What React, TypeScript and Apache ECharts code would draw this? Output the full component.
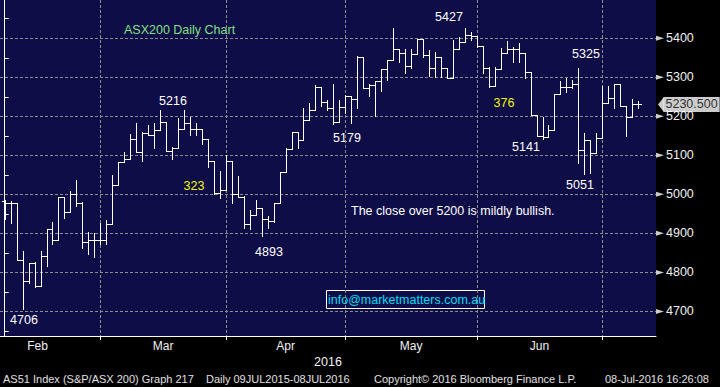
import React, { useEffect, useRef } from "react";
import * as echarts from "echarts";

// ASX200 daily bars, 5 Feb 2016 – 8 Jul 2016
const opens = [
  4982, 4977, 4977, 4833, 4778, 4824, 4766, 4843, 4910, 4882, 4993, 4954, 5002, 4979, 4877, 4882, 4882, 4882,
  4923, 5023, 5083, 5090, 5143, 5108, 5156, 5152, 5166, 5186, 5111, 5120, 5167, 5184, 5167, 5167, 5143, 5085,
  5004, 5011, 5085, 5000, 4994, 4925, 4946, 4964, 4938, 4932, 4977, 5056, 5116, 5160, 5138, 5190, 5215, 5274,
  5236, 5221, 5186, 5225, 5252, 5244, 5353, 5272, 5280, 5291, 5320, 5343, 5372, 5361, 5330, 5359, 5398, 5357,
  5323, 5351, 5323, 5297, 5373, 5390, 5408, 5405, 5380, 5323, 5278, 5320, 5361, 5372, 5372, 5361, 5314, 5203,
  5150, 5148, 5165, 5256, 5276, 5274, 5282, 5114, 5139, 5105, 5145, 5233, 5247, 5282, 5226, 5199, 5231,
];
const highs = [
  4986, 4982, 4979, 4855, 4824, 4826, 4855, 4910, 4928, 4993, 4994, 5008, 5037, 4980, 4903, 4900, 4927, 4933,
  5049, 5083, 5108, 5154, 5183, 5159, 5178, 5183, 5216, 5186, 5122, 5195, 5215, 5199, 5184, 5167, 5143, 5085,
  5060, 5101, 5085, 5047, 4996, 4960, 4985, 4964, 4945, 4977, 5056, 5120, 5160, 5160, 5220, 5234, 5280, 5274,
  5242, 5283, 5242, 5255, 5252, 5355, 5353, 5282, 5291, 5320, 5343, 5426, 5372, 5372, 5372, 5398, 5398, 5370,
  5366, 5351, 5323, 5396, 5403, 5427, 5416, 5405, 5380, 5327, 5327, 5374, 5394, 5377, 5387, 5361, 5314, 5203,
  5199, 5178, 5256, 5291, 5297, 5293, 5325, 5156, 5139, 5156, 5278, 5278, 5282, 5282, 5226, 5244, 5239,
];
const lows = [
  4936, 4927, 4831, 4706, 4774, 4763, 4765, 4817, 4874, 4882, 4940, 4954, 4971, 4863, 4847, 4840, 4872, 4872,
  4923, 5023, 5083, 5090, 5108, 5085, 5152, 5120, 5166, 5111, 5091, 5120, 5167, 5152, 5152, 5128, 5071, 5002,
  4991, 5011, 4978, 4994, 4913, 4910, 4946, 4893, 4914, 4930, 4977, 5056, 5116, 5119, 5138, 5190, 5215, 5227,
  5216, 5179, 5186, 5208, 5184, 5220, 5272, 5252, 5202, 5266, 5293, 5343, 5340, 5312, 5323, 5359, 5353, 5303,
  5300, 5300, 5297, 5297, 5373, 5390, 5396, 5378, 5310, 5276, 5278, 5320, 5361, 5338, 5338, 5297, 5203, 5150,
  5141, 5146, 5165, 5256, 5261, 5272, 5081, 5051, 5054, 5105, 5145, 5233, 5220, 5226, 5150, 5199, 5220,
];
const closes = [
  4977, 4977, 4833, 4778, 4824, 4766, 4843, 4910, 4882, 4993, 4954, 5002, 4979, 4877, 4882, 4882, 4882, 4923,
  5023, 5083, 5090, 5143, 5108, 5156, 5152, 5166, 5186, 5111, 5120, 5167, 5184, 5167, 5167, 5143, 5085, 5004,
  5011, 5085, 5000, 4994, 4925, 4946, 4964, 4938, 4932, 4977, 5056, 5116, 5160, 5138, 5190, 5215, 5274, 5236,
  5221, 5186, 5225, 5252, 5244, 5353, 5272, 5280, 5291, 5320, 5343, 5372, 5361, 5330, 5359, 5398, 5357, 5323,
  5351, 5323, 5297, 5373, 5390, 5408, 5405, 5380, 5323, 5278, 5320, 5361, 5372, 5372, 5361, 5314, 5203, 5150,
  5148, 5165, 5256, 5276, 5274, 5282, 5114, 5139, 5105, 5145, 5233, 5247, 5282, 5226, 5199, 5231, 5230.5,
];

const monthNames = ["Feb", "Mar", "Apr", "May", "Jun"];
const monthLabelAt = [5.5, 26.5, 47, 68, 89.5]; // bar positions of month label centres
const monthEndBars = [16, 37, 57, 79, 100]; // last trading day of Feb..Jun
const priceTicks = [4700, 4800, 4900, 5000, 5100, 5200, 5300, 5400];
const minorTicks = [4650, 4750, 4850, 4950, 5050, 5150, 5250, 5350, 5450];
const lastPrice = 5230.5;
const xMin = -0.784;
const xMax = 108.99;
const yMin = 4637;
const yMax = 5498;

const FONT = '"Liberation Sans", Arial, sans-serif';
const NAVY = "#0e0d48";
const GRIDC = "#8c8c8c";

export default function App() {
  const ref = useRef<HTMLDivElement>(null);
  useEffect(() => {
    if (!ref.current) return;
    const chart = echarts.init(ref.current, undefined, { renderer: "svg" });
    const bars = opens.map((o, i) => [i, o, highs[i], lows[i], closes[i]]);
    const crisp = (v: number) => Math.round(v) + 0.5;

    const txt = (text: string, x: number, y: number, fill: string, size = 12.5, align = "center") => ({
      type: "text",
      x,
      y,
      silent: true,
      style: { text, fill, font: `${size}px ${FONT}`, align, verticalAlign: "middle" },
    });

    chart.setOption({
      animation: false,
      backgroundColor: "#000",
      grid: { left: 0, top: 0, width: 656, height: 336, show: true, backgroundColor: NAVY, borderWidth: 0 },
      xAxis: {
        type: "value",
        min: xMin,
        max: xMax,
        axisLine: { show: true, lineStyle: { color: "#fff", width: 1 } },
        axisTick: { show: true, customValues: monthEndBars, length: 4, lineStyle: { color: "#fff" } },
        axisLabel: {
          customValues: monthLabelAt,
          color: "#f0f0f0",
          fontSize: 12,
          fontFamily: FONT,
          margin: 4,
          formatter: (v: number) => {
            let best = 0;
            monthLabelAt.forEach((m, k) => {
              if (Math.abs(m - v) < Math.abs(monthLabelAt[best] - v)) best = k;
            });
            return monthNames[best];
          },
        },
        splitLine: { show: false },
      },
      yAxis: {
        type: "value",
        position: "right",
        min: yMin,
        max: yMax,
        axisLine: { show: true, lineStyle: { color: "#fff", width: 1 } },
        axisTick: { show: true, customValues: minorTicks, length: 4, lineStyle: { color: "#fff" } },
        axisLabel: {
          customValues: priceTicks,
          color: "#f0f0f0",
          fontSize: 12.5,
          fontFamily: FONT,
          margin: 10,
          formatter: (v: number) => String(Math.round(v)),
        },
        splitLine: { show: false },
      },
      series: [
        {
          type: "custom",
          z: 1,
          silent: true,
          data: priceTicks.map((v) => [0, v]),
          encode: { x: 0, y: 1 },
          renderItem: (params: any, api: any) => {
            const y = crisp(api.coord([0, api.value(1)])[1] - 0.5);
            const cs = params.coordSys;
            return {
              type: "line",
              shape: { x1: cs.x, y1: y, x2: cs.x + cs.width, y2: y },
              style: { stroke: GRIDC, lineWidth: 1, lineDash: [3, 2] },
            };
          },
        },
        {
          type: "custom",
          z: 1,
          silent: true,
          data: monthEndBars.map((b) => [b, 5000]),
          encode: { x: 0, y: 1 },
          renderItem: (params: any, api: any) => {
            const x = crisp(api.coord([api.value(0), 5000])[0]);
            const cs = params.coordSys;
            return {
              type: "line",
              shape: { x1: x, y1: cs.y, x2: x, y2: cs.y + cs.height },
              style: { stroke: GRIDC, lineWidth: 1, lineDash: [3, 2] },
            };
          },
        },
        {
          type: "custom",
          z: 3,
          silent: true,
          data: bars,
          encode: { x: 0, y: [1, 2, 3, 4] },
          renderItem: (params: any, api: any) => {
            const i = api.value(0);
            const o = api.coord([i, api.value(1)]);
            const h = api.coord([i, api.value(2)]);
            const l = api.coord([i, api.value(3)]);
            const c = api.coord([i, api.value(4)]);
            const x = crisp(h[0]);
            const style = { stroke: "#fff", lineWidth: 1 };
            return {
              type: "group",
              children: [
                { type: "line", shape: { x1: x, y1: Math.round(h[1]), x2: x, y2: Math.round(l[1]) + 1 }, style },
                { type: "line", shape: { x1: x - 3.5, y1: crisp(o[1]), x2: x, y2: crisp(o[1]) }, style },
                { type: "line", shape: { x1: x, y1: crisp(c[1]), x2: x + 3.5, y2: crisp(c[1]) }, style },
              ],
            };
          },
        },
        {
          type: "scatter",
          z: 4,
          silent: true,
          clip: false,
          data: priceTicks.map((v) => [xMax, v]),
          symbol: "triangle",
          symbolRotate: -90,
          symbolSize: [5, 8],
          symbolOffset: [4, 0],
          itemStyle: { color: "#fff" },
        },
        {
          type: "scatter",
          z: 5,
          silent: true,
          clip: false,
          data: [[xMax, lastPrice]],
          symbol: "triangle",
          symbolRotate: 90,
          symbolSize: [15, 6],
          symbolOffset: [5, 0],
          itemStyle: { color: "#fff" },
        },
        {
          type: "scatter",
          z: 5,
          silent: true,
          clip: false,
          data: [[xMax, lastPrice]],
          symbolSize: 1,
          itemStyle: { color: "rgba(0,0,0,0)" },
          label: {
            show: true,
            position: "right",
            distance: 7,
            formatter: () => lastPrice.toFixed(3),
            backgroundColor: "#fff",
            color: "#000",
            fontSize: 12.5,
            fontFamily: FONT,
            lineHeight: 13,
            padding: [1, 2, 1, 2],
          },
        },
      ],
      graphic: [
        txt("ASX200 Daily Chart", 124, 30, "#80e080", 12.5, "left"),
        txt("5216", 173, 101, "#ffffff"),
        txt("323", 194, 186, "#f5f500"),
        txt("4706", 24, 320, "#ffffff"),
        txt("4893", 269, 252, "#ffffff"),
        txt("5179", 347, 138, "#ffffff"),
        txt("5427", 449, 17, "#ffffff"),
        txt("376", 504, 103, "#f5f500"),
        txt("5141", 526, 147, "#ffffff"),
        txt("5325", 586, 54, "#ffffff"),
        txt("5051", 580, 185, "#ffffff"),
        txt("The close over 5200 is mildly bullish.", 351, 211, "#ffffff", 12.5, "left"),
        {
          type: "rect",
          silent: true,
          shape: { x: 326.5, y: 290.5, width: 158, height: 18 },
          style: { fill: "none", stroke: "#ffffff", lineWidth: 1 },
        },
        txt("info@marketmatters.com.au", 328, 300, "#00dcf5", 12.5, "left"),
        txt("2016", 328, 362, "#f0f0f0", 12.5),
        txt("AS51 Index (S&P/ASX 200) Graph 217", 3, 379, "#e0e0e0", 11, "left"),
        txt("Daily 09JUL2015-08JUL2016", 206, 379, "#e0e0e0", 11, "left"),
        txt("Copyright\u00a9 2016 Bloomberg Finance L.P.", 374, 379, "#e0e0e0", 11, "left"),
        txt("08-Jul-2016 16:26:08", 605, 379, "#e0e0e0", 11, "left"),
      ],
    });
    return () => chart.dispose();
  }, []);

  return (
    <div style={{ position: "fixed", left: 0, top: 0, width: 720, height: 387, background: "#000" }}>
      <div ref={ref} style={{ width: 720, height: 387 }} />
    </div>
  );
}
